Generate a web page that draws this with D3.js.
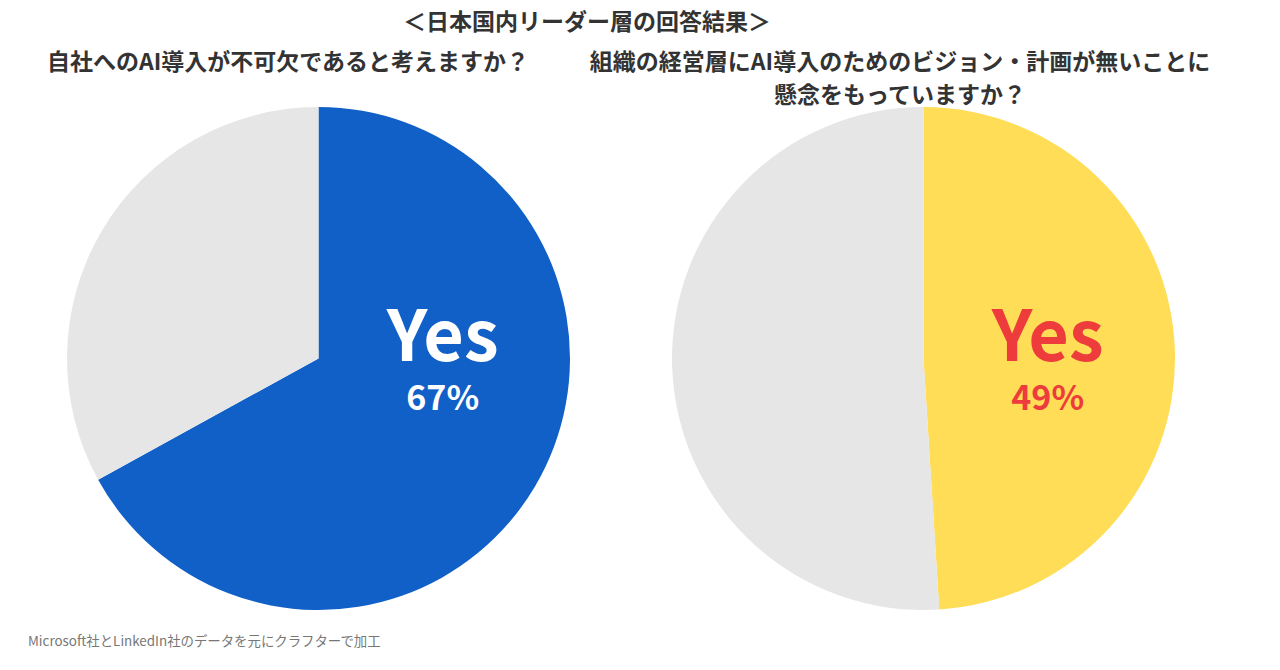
<!DOCTYPE html>
<html>
<head>
<meta charset="utf-8">
<script src="https://cdn.jsdelivr.net/npm/d3@7"></script>
<style>
  html, body { margin: 0; padding: 0; background: #fff; }
  svg { display: block; }
  text { font-family: "Noto Sans CJK JP", "Noto Sans", sans-serif; }
</style>
</head>
<body>
<svg id="chart" width="1280" height="670"></svg>
<script>
// ---- data ----
const mainTitle = "＜日本国内リーダー層の回答結果＞";
const chartTitles = [
  ["自社へのAI導入が不可欠であると考えますか？"],
  ["組織の経営層にAI導入のためのビジョン・計画が無いことに", "懸念をもっていますか？"]
];
const categories = ["Yes", "Other"];
const yesValues = [67, 49];
const otherValues = [33, 51];
const yesLabel = "Yes";
const footnote = "Microsoft社とLinkedIn社のデータを元にクラフターで加工";

// ---- styles ----
const yesColors = ["#1160C7", "#FFDD57"];
const otherColor = "#E6E6E6";
const labelColors = ["#FFFFFF", "#EE3B3B"];

const svg = d3.select("#chart");
const centers = [318.5, 923.5];
const cy = 358.5;
const R = 251.5;

svg.append("text")
  .attr("x", 587).attr("y", 30)
  .attr("text-anchor", "middle")
  .attr("font-size", 23).attr("font-weight", 700)
  .attr("fill", "#333")
  .text(mainTitle);

const pie = d3.pie().sort(null).value(d => d.value);
const arc = d3.arc().innerRadius(0).outerRadius(R);

const titleCenters = [288, 900];

[0, 1].forEach(i => {
  const data = [
    { cat: categories[0], value: yesValues[i] },
    { cat: categories[1], value: otherValues[i] }
  ];
  const g = svg.append("g").attr("transform", `translate(${centers[i]},${cy})`);
  g.selectAll("path")
    .data(pie(data))
    .join("path")
    .attr("d", arc)
    .attr("fill", d => d.data.cat === "Yes" ? yesColors[i] : otherColor);

  // label (one text element, two lines)
  const lx = R * 0.494;
  const t = g.append("text")
    .attr("text-anchor", "middle")
    .attr("font-weight", 700)
    .attr("fill", labelColors[i]);
  t.append("tspan")
    .attr("x", lx).attr("y", 2)
    .attr("font-size", 70)
    .text(yesLabel);
  t.append("tspan")
    .attr("x", lx).attr("y", 51)
    .attr("font-size", 34)
    .text(yesValues[i] + "%");

  // title
  chartTitles[i].forEach((line, j) => {
    svg.append("text")
      .attr("x", titleCenters[i]).attr("y", 70 + j * 33)
      .attr("text-anchor", "middle")
      .attr("font-size", 23).attr("font-weight", 700)
      .attr("fill", "#333")
      .text(line);
  });
});

svg.append("text")
  .attr("x", 28).attr("y", 646)
  .attr("font-size", 13.4)
  .attr("fill", "#777")
  .text(footnote);
</script>
</body>
</html>
